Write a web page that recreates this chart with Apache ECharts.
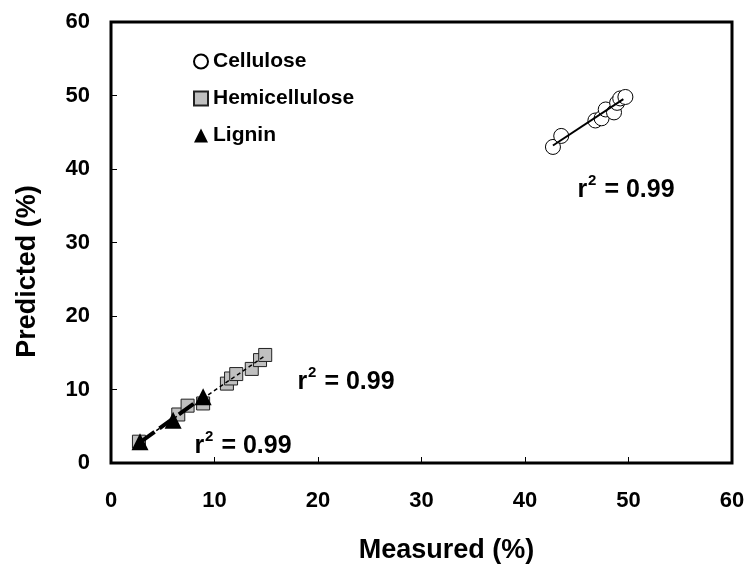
<!DOCTYPE html>
<html>
<head>
<meta charset="utf-8">
<script src="https://cdn.jsdelivr.net/npm/echarts@6/dist/echarts.min.js"></script>
<style>
  html, body { margin: 0; padding: 0; background: #fff; }
</style>
</head>
<body>
<div id="main" style="width:748px;height:578px;"></div>
<script>
// measured / predicted pairs
const cellulose = [[42.7, 43.0], [43.5, 44.5], [46.8, 46.6], [47.4, 46.9], [47.8, 48.1],
  [48.6, 47.7], [48.9, 49.0], [49.2, 49.6], [49.7, 49.8]]
const hemicellulose = [[2.7, 2.9], [6.5, 6.6], [7.4, 7.8], [8.9, 8.1], [11.2, 10.8],
  [11.6, 11.5], [12.1, 12.1], [13.6, 12.8], [14.4, 14.0], [14.9, 14.7]]
const lignin = [[2.8, 2.9], [6.0, 5.8], [8.9, 9.0]]

// trend lines (end points)
const celluloseFit = [[42.7, 43.2], [49.5, 49.5]]
const hemicelluloseFit = [[2.7, 2.8], [14.9, 14.6]]
const ligninFit = [[2.8, 2.8], [8.9, 9.0]]

const seriesNames = ['Cellulose', 'Hemicellulose', 'Lignin']
const fitLabel = 'r{sup|2} = 0.99'

const font = 'Liberation Sans, Arial, sans-serif'

var myChart = echarts.init(document.getElementById('main'))

var option = {
  animation: false,
  textStyle: { fontFamily: font },
  grid: {
    left: 111, right: 16, top: 22, bottom: 115,
    show: true, borderColor: '#000', borderWidth: 3
  },
  legend: {
    orient: 'vertical',
    left: 188, top: 45,
    itemGap: 14,
    itemWidth: 14, itemHeight: 14,
    data: seriesNames,
    textStyle: { fontSize: 21, fontWeight: 'bold', color: '#000', fontFamily: font, lineHeight: 23 }
  },
  xAxis: {
    type: 'value', min: 0, max: 60, interval: 10,
    name: 'Measured (%)', nameLocation: 'middle', nameGap: 74,
    nameTextStyle: { fontSize: 27, fontWeight: 'bold', color: '#000', fontFamily: font, padding: [0, 0, 0, 50] },
    axisLine: { show: false },
    axisTick: { show: true, inside: true, length: 6, lineStyle: { color: '#000', width: 1 } },
    axisLabel: { fontSize: 22, fontWeight: 'bold', color: '#000', margin: 27, fontFamily: font },
    splitLine: { show: false }
  },
  yAxis: {
    type: 'value', min: 0, max: 60, interval: 10,
    name: 'Predicted (%)', nameLocation: 'middle', nameGap: 70,
    nameTextStyle: { fontSize: 27, fontWeight: 'bold', color: '#000', fontFamily: font, padding: [0, 58, 0, 0] },
    axisLine: { show: false },
    axisTick: { show: true, inside: true, length: 6, lineStyle: { color: '#000', width: 1 } },
    axisLabel: { fontSize: 22, fontWeight: 'bold', color: '#000', margin: 21, fontFamily: font },
    splitLine: { show: false }
  },
  series: [
    {
      name: 'Cellulose', type: 'scatter', data: cellulose,
      symbol: 'circle', symbolSize: 15, z: 2,
      itemStyle: { color: '#fff', borderColor: '#000', borderWidth: 1, opacity: 1 }
    },
    {
      name: 'Hemicellulose', type: 'scatter', data: hemicellulose,
      symbol: 'rect', symbolSize: 13, z: 2,
      itemStyle: { color: '#c0c0c0', borderColor: '#222', borderWidth: 1, opacity: 1 }
    },
    {
      name: 'Lignin', type: 'scatter', data: lignin,
      symbol: 'triangle', symbolSize: 17, z: 5,
      itemStyle: { color: '#000', opacity: 1 }
    },
    {
      type: 'line', data: celluloseFit, showSymbol: false, z: 3,
      lineStyle: { color: '#000', width: 2 }
    },
    {
      type: 'line', data: hemicelluloseFit, showSymbol: false, z: 3,
      lineStyle: { color: '#000', width: 1.5, type: [4, 3] }
    },
    {
      type: 'line', data: ligninFit, showSymbol: false, z: 4,
      lineStyle: { color: '#000', width: 4, type: [18, 6] }
    }
  ],
  graphic: [
    { pos: [626, 190] },
    { pos: [346, 382] },
    { pos: [243, 446] }
  ].map(g => ({
    type: 'text', x: g.pos[0], y: g.pos[1], z: 10,
    style: {
      text: fitLabel,
      align: 'center', verticalAlign: 'middle',
      font: 'bold 25px ' + font,
      fill: '#000',
      rich: {
        sup: { font: 'bold 15px ' + font, fill: '#000', padding: [0, 1, 18, 1] }
      }
    }
  }))
}

myChart.setOption(option)
window.addEventListener('resize', () => {
  myChart.resize()
})
</script>
</body>
</html>
